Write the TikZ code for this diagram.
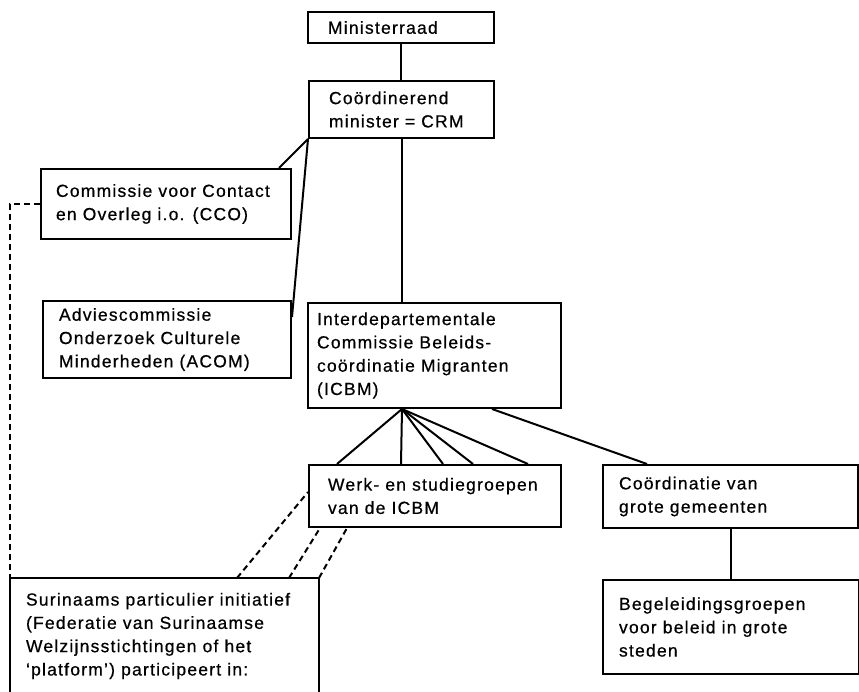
\documentclass[tikz,border=0pt]{standalone}
\usepackage{fontspec}
\setmainfont{Liberation Sans}[LetterSpace=7,FakeBold=0.6]
\newcommand\bxt[3]{\hspace*{#1pt}\parbox{\dimexpr#2pt-#1pt\relax}{\raggedright #3}}
\begin{document}
\begin{tikzpicture}[x=1pt,y=-1pt,
  boxline/.style={line width=2pt},
  orgbox/.style={boxline,draw,inner sep=0pt,anchor=north west,
    font=\fontsize{17.5}{23.3}\selectfont},
  link/.style={line width=2pt},
  dlink/.style={line width=2pt,dash pattern=on 6pt off 4pt}]
\useasboundingbox (0,0) rectangle (859,692);

\node[orgbox,minimum width=186pt,minimum height=31pt] (min) at (307,11)
  {\bxt{20}{186}{Ministerraad}};
\node[orgbox,minimum width=185pt,minimum height=57pt] (crm) at (308,80)
  {\bxt{20}{185}{Co\"ordinerend\\minister = CRM}};
\node[orgbox,minimum width=250pt,minimum height=70pt] (cco) at (40,168)
  {\bxt{15}{250}{Commissie voor Contact\\en Overleg i.o. (CCO)}};
\node[orgbox,minimum width=248pt,minimum height=77pt] (acom) at (42,300)
  {\bxt{16}{248}{Adviescommissie\\Onderzoek Culturele\\Minderheden (ACOM)}};
\node[orgbox,minimum width=253pt,minimum height=105pt] (icbm) at (307,302)
  {\bxt{9}{253}{Interdepartementale\\Commissie Beleids-\\co\"ordinatie Migranten\\(ICBM)}};
\node[orgbox,minimum width=252pt,minimum height=62pt] (werk) at (308,464)
  {\bxt{19}{252}{Werk- en studiegroepen\\van de ICBM}};
\node[orgbox,minimum width=255pt,minimum height=63pt] (coord) at (602,464)
  {\bxt{16}{255}{Co\"ordinatie van\\grote gemeenten}};
\node[orgbox,minimum width=256pt,minimum height=94pt] (beg) at (602,579)
  {\bxt{16}{256}{Begeleidingsgroepen\\voor beleid in grote\\steden}};
\node[orgbox,draw=none,minimum width=307pt,minimum height=114pt] (sur) at (10,578)
  {\bxt{15}{307}{Surinaams particulier initiatief\\(Federatie van Surinaamse\\Welzijnsstichtingen of het\\`platform') participeert in:}};
\draw[boxline] (sur.south west) -- (sur.north west) -- (sur.north east) -- (sur.south east);

% solid connectors
\draw[link] (min.south) -- (min.south |- crm.north);
\draw[link] (crm.south west) -- ([xshift=-13pt]cco.north east);
\draw[link] (crm.south west) -- ([yshift=-17pt]acom.north east);
\draw[link] (crm.south) -- (crm.south |- icbm.north);
\coordinate (hub) at ([xshift=95pt]icbm.south west);
\draw[link] (hub) -- ([xshift=29pt]werk.north west);
\draw[link] (hub) -- ([xshift=93pt]werk.north west);
\draw[link] (hub) -- ([xshift=135pt]werk.north west);
\draw[link] (hub) -- ([xshift=165pt]werk.north west);
\draw[link] (hub) -- ([xshift=220pt]werk.north west);
\draw[link] ([xshift=185pt]icbm.south west) -- ([xshift=45pt]coord.north west);
\draw[link] (coord.south) -- (coord.south |- beg.north);

% dashed connectors
\draw[dlink] (cco.west) -| (sur.north west);
\draw[dlink] ([xshift=227pt]sur.north west) -- ([yshift=-28pt]werk.north west);
\draw[dlink] ([xshift=279pt]sur.north west) -- ([xshift=12pt]werk.south west);
\draw[dlink] (sur.north east) -- ([xshift=39pt]werk.south west);
\end{tikzpicture}
\end{document}
